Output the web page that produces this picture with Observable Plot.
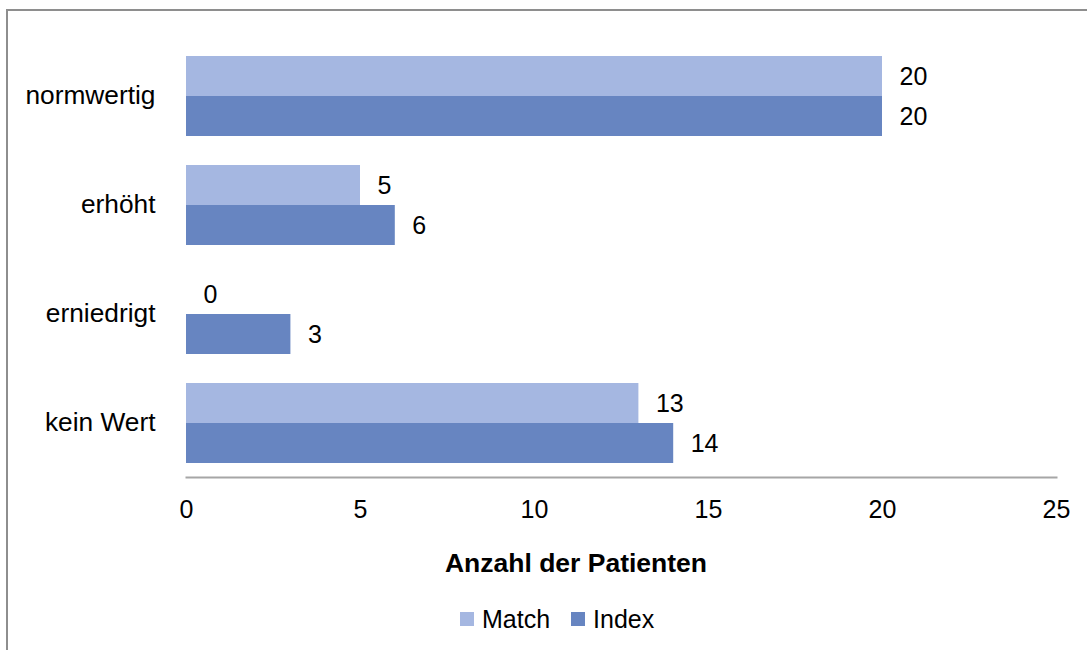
<!DOCTYPE html>
<html>
<head>
<meta charset="utf-8">
<script src="https://cdn.jsdelivr.net/npm/d3@7"></script>
<script src="https://cdn.jsdelivr.net/npm/@observablehq/plot@0.6"></script>
<style>
  html, body { margin: 0; padding: 0; background: #fff; overflow: hidden; }
  #wrap { position: relative; width: 1087px; height: 650px; overflow: hidden; font-family: "Liberation Sans", Arial, sans-serif; color: #000; }
  #border { position: absolute; left: 6px; top: 9px; width: 1300px; height: 900px; border: 2px solid #8e8e8e; box-sizing: border-box; }
  #chart { position: absolute; left: 0; top: 0; }
  #title { position: absolute; left: 0; width: 1152px; text-align: center; top: 550px; font-size: 26.5px; line-height: 26px; font-weight: bold; }
  #legend { position: absolute; left: 460px; top: 606px; display: flex; align-items: center; font-size: 25px; line-height: 26px; }
  #legend .sw { width: 14px; height: 14px; display: inline-block; margin-right: 8px; }
  #legend .item { display: flex; align-items: center; margin-right: 21px; }
</style>
</head>
<body>
<div id="wrap">
  <div id="border"></div>
  <div id="chart"></div>
  <div id="title"></div>
  <div id="legend"></div>
</div>
<script>
const categories = ["normwertig", "erhöht", "erniedrigt", "kein Wert"];
const series = ["Match", "Index"];
const matchValues = [20, 5, 0, 13];
const indexValues = [20, 6, 3, 14];
const xTicks = [0, 5, 10, 15, 20, 25];
const seriesColors = ["#a5b7e1", "#6785c1"];
const xLabel = "Anzahl der Patienten";

const data = [];
categories.forEach((c, i) => {
  data.push({category: c, series: "Match", value: matchValues[i]});
  data.push({category: c, series: "Index", value: indexValues[i]});
});

const chart = Plot.plot({
  width: 1087,
  height: 530,
  marginTop: 40,
  marginBottom: 52,
  marginLeft: 186,
  marginRight: 31,
  style: {fontFamily: "'Liberation Sans', Arial, sans-serif", fontSize: "25px", color: "#000", background: "transparent", overflow: "visible"},
  x: {domain: [0, 25], ticks: xTicks, tickSize: 0, tickPadding: 23, label: null},
  fy: {domain: categories, padding: 0, label: null},
  y: {domain: series, paddingInner: 0, paddingOuter: 0.352, axis: null},
  color: {domain: series, range: seriesColors},
  marks: [
    Plot.axisFy({anchor: "left", tickSize: 0, tickPadding: 31, fontSize: 26.3, label: null}),
    Plot.barX(data, {fy: "category", y: "series", x: "value", fill: "series"}),
    Plot.text(data, {fy: "category", y: "series", x: "value", text: d => String(d.value), dx: 17, textAnchor: "start", fill: "#000"}),
    Plot.frame({anchor: "bottom", facet: "super", stroke: "#a6a6a6", strokeWidth: 2})
  ]
});
document.getElementById("chart").appendChild(chart);

document.getElementById("title").textContent = xLabel;

const legend = document.getElementById("legend");
series.forEach((s, i) => {
  const item = document.createElement("span");
  item.className = "item";
  const sw = document.createElement("span");
  sw.className = "sw";
  sw.style.background = seriesColors[i];
  item.appendChild(sw);
  item.appendChild(document.createTextNode(s));
  legend.appendChild(item);
});
</script>
</body>
</html>
